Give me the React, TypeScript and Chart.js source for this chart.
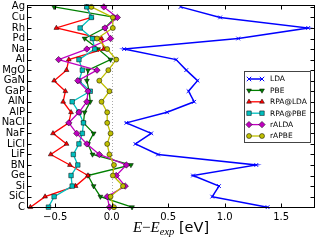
import React, { useEffect, useRef } from 'react';
import { Chart, registerables } from 'chart.js';

Chart.register(...registerables);

const categories = ['Ag', 'Cu', 'Rh', 'Pd', 'Na', 'Al', 'MgO', 'GaN', 'GaP', 'AlN', 'AlP', 'NaCl', 'NaF', 'LiCl', 'LiF', 'BN', 'Ge', 'Si', 'SiC', 'C'];

const lda = [0.61, 0.96, 1.74, 1.12, 0.11, 0.57, 0.66, 0.76, 0.68, 0.73, 0.49, 0.13, 0.35, 0.21, 0.41, 1.28, 0.72, 0.95, 0.89, 1.38];
const pbe = [-0.51, 0.03, -0.06, -0.24, -0.12, -0.01, -0.21, -0.22, -0.2, -0.19, -0.24, -0.25, -0.16, -0.21, -0.17, 0.17, -0.21, -0.16, -0.1, 0.18];
const rpaLda = [-0.22, -0.18, -0.49, -0.09, -0.07, -0.38, -0.4, -0.51, -0.41, -0.43, -0.36, -0.38, -0.52, -0.4, -0.54, -0.37, -0.21, -0.32, -0.59, -0.72];
const rpaPbe = [-0.22, -0.18, -0.28, -0.17, -0.15, -0.29, -0.26, -0.29, -0.19, -0.35, -0.29, -0.25, -0.26, -0.29, -0.34, -0.3, -0.36, -0.35, -0.51, -0.56];
const ralda = [-0.07, 0.05, -0.06, -0.01, -0.22, -0.47, -0.13, -0.3, -0.21, -0.22, -0.29, -0.38, -0.31, -0.22, -0.11, 0.13, 0.04, 0.12, -0.04, -0.02];
const rapbe = [-0.18, 0.01, 0.01, -0.13, -0.04, 0.04, -0.03, -0.11, -0.02, -0.09, -0.04, -0.04, -0.01, -0.04, -0.02, 0.02, 0.01, 0.1, -0.01, 0.02];

const xTicks = [-0.5, 0.0, 0.5, 1.0, 1.5];

type Series = {
  label: string;
  data: number[];
  color: string;
  style: string;
  radius: number;
  rot: number;
  edge: string;
  bw: number;
  width: number;
};

const seriesList: Series[] = [
  { label: 'LDA', data: lda, color: '#0000ff', style: 'crossRot', radius: 2.6, rot: 0, edge: '#0000ff', bw: 1, width: 1.5 },
  { label: 'PBE', data: pbe, color: '#008000', style: 'triangle', radius: 2.8, rot: 180, edge: '#000000', bw: 0.5, width: 1.3 },
  { label: 'RPA@LDA', data: rpaLda, color: '#ff0000', style: 'triangle', radius: 2.8, rot: 0, edge: '#000000', bw: 0.5, width: 1.3 },
  { label: 'RPA@PBE', data: rpaPbe, color: '#00bfbf', style: 'rect', radius: 3.2, rot: 0, edge: '#000000', bw: 0.5, width: 1.3 },
  { label: 'rALDA', data: ralda, color: '#bf00bf', style: 'rectRot', radius: 3.2, rot: 0, edge: '#000000', bw: 0.5, width: 1.3 },
  { label: 'rAPBE', data: rapbe, color: '#bfbf00', style: 'circle', radius: 2.5, rot: 0, edge: '#000000', bw: 0.5, width: 1.3 },
];

function drawMarker(ctx: CanvasRenderingContext2D, s: Series, x: number, y: number) {
  const r = s.radius;
  ctx.save();
  ctx.translate(x, y);
  ctx.rotate((s.rot * Math.PI) / 180);
  ctx.beginPath();
  ctx.fillStyle = s.color;
  ctx.strokeStyle = s.edge;
  ctx.lineWidth = s.bw;
  if (s.style === 'crossRot') {
    const d = r * Math.SQRT1_2 * 1.2;
    ctx.moveTo(-d, -d);
    ctx.lineTo(d, d);
    ctx.moveTo(-d, d);
    ctx.lineTo(d, -d);
    ctx.stroke();
  } else {
    if (s.style === 'triangle') {
      for (let k = 0; k < 3; k++) {
        const a = (k * 2 * Math.PI) / 3;
        const px = Math.sin(a) * r;
        const py = -Math.cos(a) * r;
        if (k === 0) ctx.moveTo(px, py);
        else ctx.lineTo(px, py);
      }
      ctx.closePath();
    } else if (s.style === 'rect') {
      const h = r * Math.SQRT1_2;
      ctx.rect(-h, -h, 2 * h, 2 * h);
    } else if (s.style === 'rectRot') {
      ctx.moveTo(0, -r);
      ctx.lineTo(r, 0);
      ctx.lineTo(0, r);
      ctx.lineTo(-r, 0);
      ctx.closePath();
    } else {
      ctx.arc(0, 0, r, 0, Math.PI * 2);
    }
    ctx.fill();
    ctx.stroke();
  }
  ctx.restore();
}

function fmt(v: number): string {
  const t = Math.abs(v).toFixed(1);
  return v < 0 ? '\u2212' + t : t;
}

export default function App() {
  const ref = useRef<HTMLCanvasElement>(null);

  useEffect(() => {
    document.body.style.margin = '0';
    const canvas = ref.current;
    if (!canvas) return;

    const framePlugin = {
      id: 'framePlugin',
      beforeDatasetsDraw(chart: any) {
        const ctx: CanvasRenderingContext2D = chart.ctx;
        const { top, bottom } = chart.chartArea;
        const x0 = Math.round(chart.scales.x.getPixelForValue(0)) + 0.5;
        ctx.save();
        ctx.strokeStyle = '#aaaaaa';
        ctx.lineWidth = 1;
        ctx.setLineDash([1, 2]);
        ctx.beginPath();
        ctx.moveTo(x0, top);
        ctx.lineTo(x0, bottom);
        ctx.stroke();
        ctx.restore();
      },
      afterDraw(chart: any) {
        const ctx: CanvasRenderingContext2D = chart.ctx;
        const { left, right, top, bottom } = chart.chartArea;
        const xs = chart.scales.x;
        const ys = chart.scales.y;
        ctx.save();
        ctx.strokeStyle = '#000000';
        ctx.lineWidth = 1;
        const L = Math.round(left) + 0.5;
        const R = Math.round(right) - 0.5;
        const T = Math.round(top) + 0.5;
        const B = Math.round(bottom) - 0.5;
        ctx.strokeRect(L, T, R - L, B - T);
        ctx.beginPath();
        categories.forEach((_, i) => {
          const y = Math.round(ys.getPixelForValue(i)) + 0.5;
          ctx.moveTo(L, y);
          ctx.lineTo(L + 4, y);
          ctx.moveTo(R, y);
          ctx.lineTo(R - 4, y);
        });
        xTicks.forEach((v) => {
          const x = Math.round(xs.getPixelForValue(v)) + 0.5;
          ctx.moveTo(x, B);
          ctx.lineTo(x, B - 4);
          ctx.moveTo(x, T);
          ctx.lineTo(x, T + 4);
        });
        ctx.stroke();

        // legend
        const lx = 244.5, ly = 71.5, lw = 66, lh = 71;
        ctx.fillStyle = '#ffffff';
        ctx.fillRect(lx, ly, lw, lh);
        ctx.strokeStyle = '#444444';
        ctx.strokeRect(lx, ly, lw, lh);
        ctx.font = '7.5px "DejaVu Sans"';
        ctx.textAlign = 'left';
        ctx.textBaseline = 'middle';
        seriesList.forEach((s, k) => {
          const y = 79 + k * 11.4;
          ctx.strokeStyle = s.color;
          ctx.lineWidth = s.width;
          ctx.beginPath();
          ctx.moveTo(249, y);
          ctx.lineTo(262, y);
          ctx.stroke();
          drawMarker(ctx, s, 249, y);
          drawMarker(ctx, s, 262, y);
          ctx.fillStyle = '#000000';
          ctx.fillText(s.label, 270, y + 0.5);
        });

        // x axis title: E−E_exp [eV]
        const parts = [
          { t: 'E', f: 'italic 15px "Liberation Serif"', dy: 0 },
          { t: '\u2212', f: '15px "Liberation Serif"', dy: 0 },
          { t: 'E', f: 'italic 15px "Liberation Serif"', dy: 0 },
          { t: 'exp', f: 'italic 10.5px "Liberation Serif"', dy: 3 },
          { t: ' [eV]', f: '14.5px "DejaVu Sans"', dy: 0 },
        ];
        let total = 0;
        const widths = parts.map((p) => {
          ctx.font = p.f;
          const w = ctx.measureText(p.t).width;
          total += w;
          return w;
        });
        let x = (left + right) / 2 - total / 2;
        const base = 232;
        ctx.fillStyle = '#000000';
        ctx.textBaseline = 'alphabetic';
        parts.forEach((p, i) => {
          ctx.font = p.f;
          ctx.fillText(p.t, x, base + p.dy);
          x += widths[i];
        });
        ctx.restore();
      },
    };

    const chart = new Chart(canvas, {
      type: 'scatter',
      data: {
        datasets: seriesList.map((s, k) => ({
          label: s.label,
          data: s.data.map((v, i) => ({ x: v, y: i })),
          showLine: true,
          borderColor: s.color,
          backgroundColor: s.color,
          borderWidth: s.width,
          pointStyle: s.style as any,
          pointRadius: s.radius,
          pointRotation: s.rot,
          pointBorderColor: s.edge,
          pointBorderWidth: s.bw,
          pointBackgroundColor: s.color,
          clip: false as any,
          order: seriesList.length - k,
        })),
      },
      options: {
        responsive: false,
        animation: false,
        events: [],
        layout: { padding: { top: 5, right: 5, left: 0, bottom: 0 } },
        plugins: { legend: { display: false }, tooltip: { enabled: false } },
        scales: {
          x: {
            type: 'linear',
            min: -0.75,
            max: 1.8,
            grid: { display: false, drawTicks: false },
            border: { display: false },
            ticks: {
              includeBounds: false,
              stepSize: 0.5,
              padding: 3,
              color: '#000000',
              font: { family: 'DejaVu Sans', size: 10 },
              callback: (v: any) => fmt(Number(v)),
            },
            afterBuildTicks: (s: any) => {
              s.ticks = xTicks.map((v) => ({ value: v }));
            },
            afterFit: (s: any) => {
              s.height = 32;
              s.paddingLeft = 0;
              s.paddingRight = 0;
            },
          },
          y: {
            type: 'linear',
            reverse: true,
            min: -0.18,
            max: 19.08,
            grid: { display: false, drawTicks: false },
            border: { display: false },
            ticks: {
              autoSkip: false,
              padding: 2,
              color: '#000000',
              font: { family: 'DejaVu Sans', size: 10 },
              callback: (v: any) => categories[Number(v)] ?? '',
            },
            afterBuildTicks: (s: any) => {
              s.ticks = categories.map((_, i) => ({ value: i }));
            },
            afterFit: (s: any) => {
              s.width = 27;
              s.paddingTop = 0;
              s.paddingBottom = 0;
            },
          },
        },
      },
      plugins: [framePlugin],
    });

    return () => chart.destroy();
  }, []);

  return <canvas ref={ref} width={320} height={240} style={{ display: 'block' }} />;
}
